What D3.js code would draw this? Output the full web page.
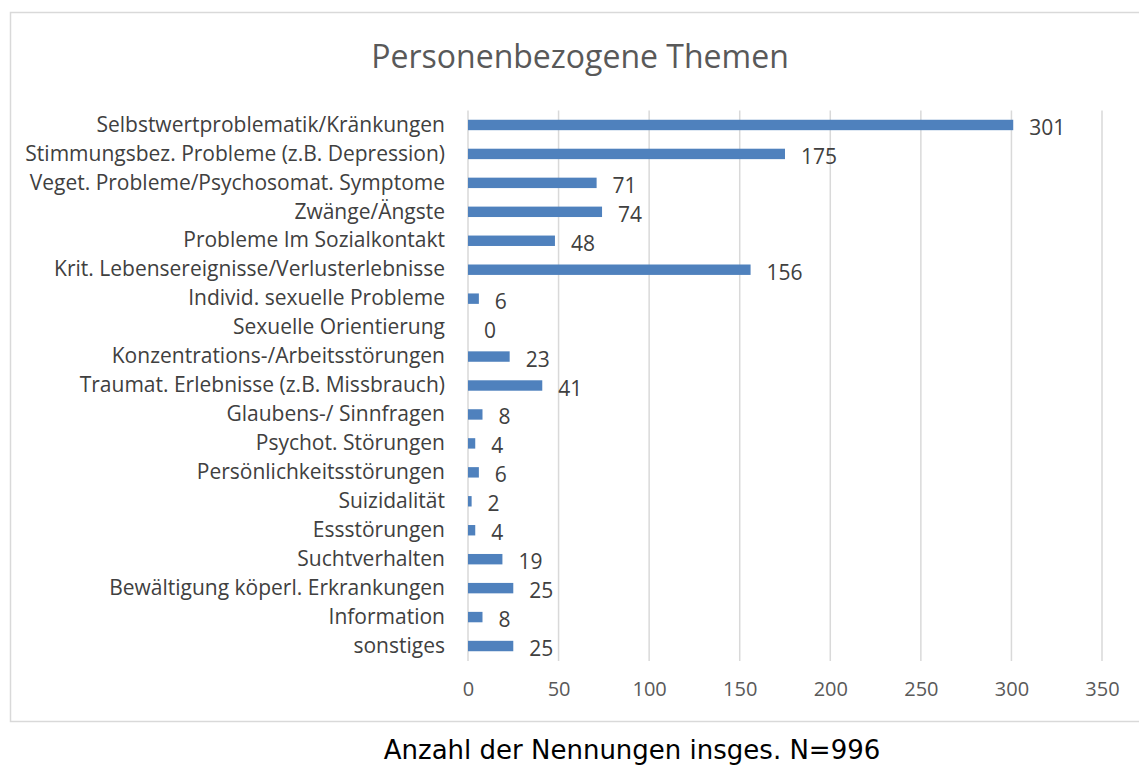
<!DOCTYPE html>
<html><head><meta charset="utf-8">
<script src="https://cdn.jsdelivr.net/npm/d3@7"></script>
<style>body{margin:0;background:#fff}svg{display:block}</style>
</head><body>
<script>
const categories = ["Selbstwertproblematik/Kränkungen","Stimmungsbez. Probleme (z.B. Depression)","Veget. Probleme/Psychosomat. Symptome","Zwänge/Ängste","Probleme Im Sozialkontakt","Krit. Lebensereignisse/Verlusterlebnisse","Individ. sexuelle Probleme","Sexuelle Orientierung","Konzentrations-/Arbeitsstörungen","Traumat. Erlebnisse (z.B. Missbrauch)","Glaubens-/ Sinnfragen","Psychot. Störungen","Persönlichkeitsstörungen","Suizidalität","Essstörungen","Suchtverhalten","Bewältigung köperl. Erkrankungen","Information","sonstiges"];
const values = [301,175,71,74,48,156,6,0,23,41,8,4,6,2,4,19,25,8,25];
const xTicks = [0,50,100,150,200,250,300,350];
const title = "Personenbezogene Themen";
const footnote = "Anzahl der Nennungen insges. N=996";

const W=1139,H=765;
const svg=d3.select("body").append("svg").attr("width",W).attr("height",H);
const font="'Open Sans', 'Noto Sans', sans-serif";

svg.append("rect").attr("x",10.5).attr("y",12.5).attr("width",1160).attr("height",709)
  .attr("fill","#fff").attr("stroke","#d9d9d9").attr("stroke-width",1.5);

svg.append("text").attr("x",580).attr("y",68).attr("text-anchor","middle")
  .attr("font-family",font).attr("font-size",32).attr("fill","#595959").text(title);

const x=d3.scaleLinear().domain([0,350]).range([468,1102]);
const y=d3.scaleBand().domain(categories).range([110.5,660.5]).paddingInner(0.64).paddingOuter(0.32);

const grid=svg.append("g");
grid.selectAll("line").data(xTicks).join("line")
  .attr("x1",d=>x(d)).attr("x2",d=>x(d)).attr("y1",110.5).attr("y2",661)
  .attr("stroke","#d9d9d9").attr("stroke-width",1.5);

const xAxis=d3.axisBottom(x).tickValues(xTicks).tickSize(0).tickPadding(0);
const gx=svg.append("g").attr("transform","translate(0,682)").call(xAxis);
gx.select(".domain").remove();
gx.selectAll("text").attr("font-family",font).attr("font-size",20).attr("fill","#595959");

const yAxis=d3.axisLeft(y).tickSize(0).tickPadding(0);
const gy=svg.append("g").attr("transform","translate(445,0)").call(yAxis);
gy.select(".domain").remove();
gy.selectAll("text").attr("font-family",font).attr("font-size",21).attr("fill","#404040");

svg.append("g").selectAll("rect").data(values).join("rect")
  .attr("x",x(0)).attr("y",(d,i)=>y(categories[i]))
  .attr("width",d=>x(d)-x(0)).attr("height",y.bandwidth()).attr("fill","#4f81bd");

svg.append("g").selectAll("text").data(values).join("text")
  .attr("x",d=>x(d)+16).attr("y",(d,i)=>y(categories[i])+y.bandwidth()/2+2)
  .attr("dominant-baseline","central")
  .attr("font-family",font).attr("font-size",21).attr("fill","#404040").text(d=>d);

svg.append("text").attr("x",632).attr("y",759).attr("text-anchor","middle")
  .attr("font-family","'DejaVu Sans', sans-serif").attr("font-size",26).attr("fill","#000").text(footnote);
</script>
</body></html>
